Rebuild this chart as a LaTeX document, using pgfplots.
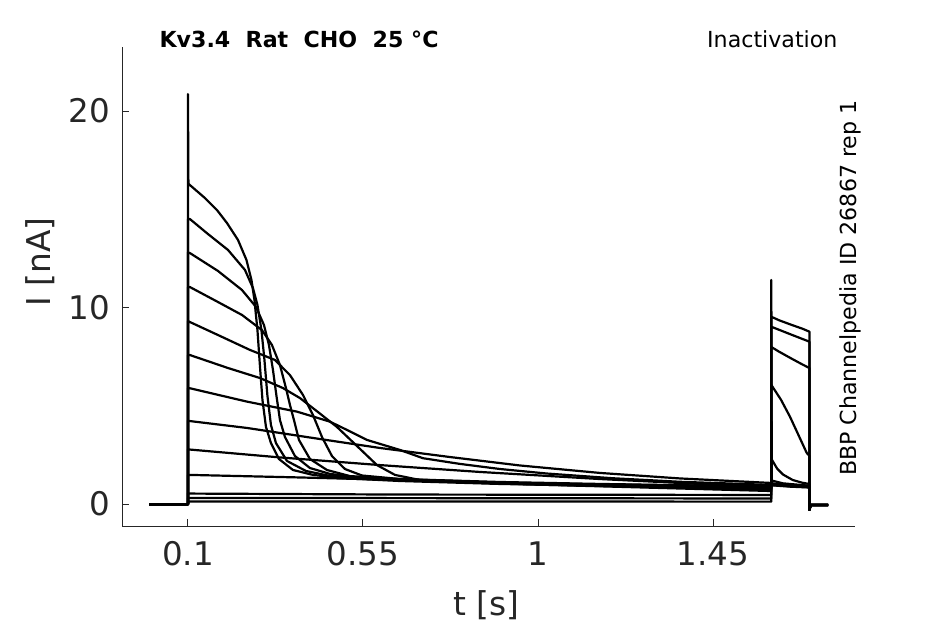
\documentclass[border=0pt]{standalone}
\usepackage{fontspec}
\setmainfont{DejaVu Sans}
\usepackage{pgfplots}
\pgfplotsset{compat=1.18}
\definecolor{axgray}{RGB}{38,38,38}
\begin{document}
\begin{tikzpicture}
\path[use as bounding box] (0,0) rectangle (708.75pt,468pt);
\begin{axis}[
  at={(91.7pt,73.5pt)}, anchor=south west,
  scale only axis, width=549.5pt, height=359pt,
  xmin=-0.0689, xmax=1.815, ymin=-1.12, ymax=23.24,
  axis x line*=bottom, axis y line*=left,
  axis line style={axgray, line width=0.7pt},
  tick align=inside, major tick length=5pt,
  tick style={axgray, line width=0.7pt},
  xtick={0.1,0.55,1,1.45}, xticklabels={0.1,0.55,1,1.45},
  ytick={0,10,20}, yticklabels={0,10,20},
  ticklabel style={font=\fontsize{24.4}{29}\selectfont, text=axgray},
  xticklabel style={yshift=-8.2pt},
  yticklabel style={xshift=-5.6pt},
  /pgf/number format/assume math mode=true,
  xlabel={t [s]}, ylabel={I [nA]},
  every axis x label/.style={at={(axis description cs:0.497,-0.165)},anchor=center,font=\fontsize{24.6}{29}\selectfont,text=axgray},
  every axis y label/.style={at={(axis description cs:-0.1123,0.5515)},rotate=90,anchor=center,font=\fontsize{24.6}{29}\selectfont,text=axgray},
  title={Kv3.4\ \ Rat\ \ CHO\ \ 25 °C},
  every axis title/.style={at={(axis description cs:0.0505,1.0)},anchor=base west,font=\bfseries\fontsize{16.6}{20}\selectfont,inner sep=0pt},
  clip=false,
  tr/.style={black, line width=1.65pt, line join=round, mark=none},
]
% trace 1
\addplot[tr] coordinates {(0,-0.02) (0.1,-0.02) (0.1,20.86) (0.1012,16.3) (0.1051,16.23) (0.1437,15.57) (0.1750,14.95) (0.2003,14.30) (0.2286,13.44) (0.2504,12.42) (0.2633,11.40) (0.2710,10.38) (0.2787,8.85) (0.2851,7.02) (0.2916,5.29) (0.3006,3.92) (0.3134,3.10) (0.3340,2.29) (0.3700,1.73) (0.4214,1.48) (0.4908,1.32) (0.6451,1.17) (0.9023,1.02) (1.1594,0.92) (1.4166,0.81) (1.6,0.76) (1.6,11.4) (1.6012,0.95) (1.65,0.88) (1.698,0.84) (1.698,-0.3) (1.701,-0.05) (1.746,-0.05)};
% trace 2
\addplot[tr] coordinates {(0,-0.02) (0.1,-0.02) (0.1,14.5) (0.1051,14.50) (0.1514,13.74) (0.2029,12.93) (0.2466,11.91) (0.2671,10.99) (0.2787,10.13) (0.2890,8.85) (0.2967,7.33) (0.3044,5.50) (0.3134,4.02) (0.3263,3.10) (0.3546,2.19) (0.4034,1.68) (0.4600,1.45) (0.5423,1.32) (0.6451,1.22) (0.9023,1.04) (1.1594,0.94) (1.4166,0.87) (1.6,0.79) (1.6,0.97) (1.65,0.90) (1.698,0.85) (1.698,-0.3) (1.701,-0.05) (1.746,-0.05)};
% trace 3
\addplot[tr] coordinates {(0,-0.02) (0.1,-0.02) (0.1,12.8) (0.1051,12.77) (0.1771,11.86) (0.2389,10.89) (0.2749,10.03) (0.2954,9.11) (0.3083,8.09) (0.3186,6.82) (0.3276,5.50) (0.3366,4.27) (0.3494,3.41) (0.3751,2.44) (0.4137,1.83) (0.4651,1.53) (0.5423,1.35) (0.6451,1.25) (0.9023,1.07) (1.1594,0.97) (1.4166,0.89) (1.6,0.84) (1.6,0.98) (1.65,0.91) (1.698,0.86) (1.698,-0.3) (1.701,-0.05) (1.746,-0.05)};
% trace 4
\addplot[tr] coordinates {(0,-0.02) (0.1,-0.02) (0.1,11.03) (0.1051,11.04) (0.1771,10.28) (0.2389,9.62) (0.2903,8.85) (0.3160,8.09) (0.3366,7.07) (0.3520,5.90) (0.3623,5.04) (0.3726,4.27) (0.3854,3.26) (0.4137,2.29) (0.4574,1.73) (0.5166,1.42) (0.6451,1.27) (0.9023,1.09) (1.1594,0.99) (1.4166,0.92) (1.6,0.87) (1.6,1.00) (1.65,0.92) (1.698,0.87) (1.698,-0.3) (1.701,-0.05) (1.746,-0.05)};
% trace 5
\addplot[tr] coordinates {(0,-0.02) (0.1,-0.02) (0.1,9.31) (0.1051,9.26) (0.1771,8.60) (0.2594,7.84) (0.3237,7.33) (0.3623,6.56) (0.3957,5.55) (0.4214,4.53) (0.4446,3.41) (0.4703,2.44) (0.5037,1.78) (0.5474,1.45) (0.6451,1.27) (0.9023,1.12) (1.1594,1.02) (1.4166,0.94) (1.6,0.89) (1.6,1.02) (1.65,0.94) (1.698,0.89) (1.698,-0.3) (1.701,-0.05) (1.746,-0.05)};
% trace 6
\addplot[tr] coordinates {(0,-0.02) (0.1,-0.02) (0.1,7.57) (0.1051,7.58) (0.2029,6.92) (0.2851,6.41) (0.3443,5.90) (0.3880,5.39) (0.4343,4.68) (0.4831,3.92) (0.5346,2.95) (0.5860,1.98) (0.6323,1.48) (0.6966,1.22) (0.7994,1.12) (0.9023,1.07) (1.1594,0.99) (1.4166,0.94) (1.6,0.92) (1.6,1.03) (1.65,0.95) (1.698,0.90) (1.698,-0.3) (1.701,-0.05) (1.746,-0.05)};
% trace 7
\addplot[tr] coordinates {(0,-0.02) (0.1,-0.02) (0.1,5.89) (0.1051,5.89) (0.2517,5.21) (0.3803,4.70) (0.4651,4.19) (0.5088,3.77) (0.5603,3.26) (0.6451,2.75) (0.7043,2.33) (0.7994,2.04) (0.9023,1.78) (1.0231,1.55) (1.1928,1.31) (1.3651,1.13) (1.6,0.97) (1.6,1.05) (1.65,0.97) (1.698,0.92) (1.698,-0.3) (1.701,-0.05) (1.746,-0.05)};
% trace 8
\addplot[tr] coordinates {(0,-0.02) (0.1,-0.02) (0.1,4.24) (0.1051,4.22) (0.2517,3.87) (0.4214,3.36) (0.5937,2.85) (0.7737,2.39) (0.9537,1.96) (1.1594,1.58) (1.3651,1.30) (1.6,1.07) (1.6,1.20) (1.63,1.05) (1.698,0.93) (1.698,-0.3) (1.701,-0.05) (1.746,-0.05)};
% trace 9
\addplot[tr] coordinates {(0,-0.02) (0.1,-0.02) (0.1,2.78) (0.1051,2.77) (0.3366,2.37) (0.5937,1.98) (0.8508,1.63) (1.1594,1.27) (1.4166,1.02) (1.6,0.87) (1.6,2.30) (1.615,1.80) (1.63,1.50) (1.655,1.22) (1.68,1.08) (1.698,1.02) (1.698,-0.3) (1.701,-0.05) (1.746,-0.05)};
% trace 10
\addplot[tr] coordinates {(0,-0.02) (0.1,-0.02) (0.1,1.48) (0.1051,1.48) (0.3880,1.35) (0.6451,1.22) (1.031,0.97) (1.417,0.76) (1.6,0.66) (1.6,6.06) (1.625,5.30) (1.648,4.44) (1.67,3.50) (1.691,2.60) (1.698,2.45) (1.698,-0.3) (1.701,-0.05) (1.746,-0.05)};
% trace 11
\addplot[tr] coordinates {(0,-0.02) (0.1,-0.02) (0.1,0.54) (0.1051,0.53) (0.6451,0.48) (1.6,0.46) (1.6,7.99) (1.62,7.75) (1.65,7.42) (1.68,7.10) (1.698,6.92) (1.698,-0.3) (1.701,-0.05) (1.746,-0.05)};
% trace 12
\addplot[tr] coordinates {(0,-0.02) (0.1,-0.02) (0.1,0.31) (1.6,0.28) (1.6,9.02) (1.65,8.63) (1.698,8.26) (1.698,-0.3) (1.701,-0.05) (1.746,-0.05)};
% trace 13
\addplot[tr] coordinates {(0,-0.02) (0.1,-0.02) (0.1,0.13) (1.6,0.12) (1.6,9.53) (1.62,9.35) (1.65,9.13) (1.68,8.92) (1.698,8.77) (1.698,-0.3) (1.701,-0.05) (1.746,-0.05)};
\node[anchor=base east, inner sep=0pt, font=\fontsize{16.6}{20}\selectfont] at (axis description cs:0.9764,1.0) {Inactivation};
\node[rotate=90, anchor=base, inner sep=0pt, font=\fontsize{16.6}{20}\selectfont] at (axis description cs:1.0023,0.497) {BBP Channelpedia ID 26867 rep 1};
\end{axis}
\end{tikzpicture}
\end{document}
